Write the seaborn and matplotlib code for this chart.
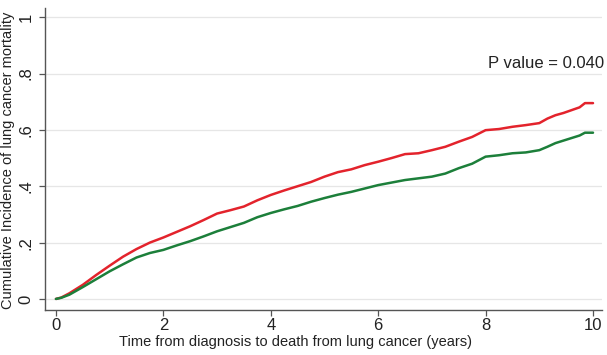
import numpy as np
import pandas as pd
import matplotlib
matplotlib.use("Agg")
import matplotlib.pyplot as plt
import seaborn as sns

# Time (years) and cumulative incidence readings
time_red = [0.0, 0.1, 0.25, 0.5, 0.75, 1.0, 1.25, 1.5, 1.75, 2.0, 2.25, 2.5, 2.75, 3.0,
            3.25, 3.5, 3.75, 4.0, 4.25, 4.5, 4.75, 5.0, 5.25, 5.5, 5.75, 6.0, 6.25,
            6.5, 6.75, 7.0, 7.25, 7.5, 7.75, 8.0, 8.25, 8.5, 8.75, 9.0, 9.15, 9.3,
            9.45, 9.6, 9.75, 9.85, 10.0]
cif_red = [0.0, 0.005, 0.02, 0.05, 0.085, 0.118, 0.15, 0.177, 0.2, 0.218, 0.238, 0.258,
           0.28, 0.303, 0.315, 0.328, 0.35, 0.369, 0.385, 0.40, 0.415, 0.434, 0.45,
           0.46, 0.475, 0.487, 0.50, 0.514, 0.517, 0.528, 0.54, 0.558, 0.575, 0.599,
           0.603, 0.611, 0.617, 0.624, 0.64, 0.652, 0.66, 0.67, 0.68, 0.695, 0.695]

time_green = [0.0, 0.1, 0.25, 0.5, 0.75, 1.0, 1.25, 1.5, 1.75, 2.0, 2.25, 2.5, 2.75, 3.0,
              3.25, 3.5, 3.75, 4.0, 4.25, 4.5, 4.75, 5.0, 5.25, 5.5, 5.75, 6.0, 6.25,
              6.5, 6.75, 7.0, 7.25, 7.5, 7.75, 8.0, 8.25, 8.5, 8.75, 9.0, 9.15, 9.3,
              9.45, 9.6, 9.75, 9.85, 10.0]
cif_green = [0.0, 0.004, 0.015, 0.042, 0.07, 0.098, 0.123, 0.147, 0.163, 0.174, 0.19,
             0.205, 0.222, 0.24, 0.255, 0.27, 0.29, 0.305, 0.318, 0.33, 0.345, 0.358,
             0.37, 0.38, 0.392, 0.404, 0.413, 0.422, 0.428, 0.434, 0.445, 0.464, 0.48,
             0.505, 0.51, 0.517, 0.52, 0.528, 0.54, 0.553, 0.562, 0.571, 0.58, 0.59,
             0.59]

y_ticks = [0, 0.2, 0.4, 0.6, 0.8, 1.0]
y_tick_labels = ["0", ".2", ".4", ".6", ".8", "1"]
x_ticks = [0, 2, 4, 6, 8, 10]

sns.set_style("white")
plt.rcParams['font.family'] = ['Liberation Sans', 'DejaVu Sans']

df = pd.concat([
    pd.DataFrame({"time": time_red, "cif": cif_red, "group": "red"}),
    pd.DataFrame({"time": time_green, "cif": cif_green, "group": "green"}),
])

fig = plt.figure(figsize=(6.07, 3.55), dpi=100)
ax = fig.add_axes([0.074, 0.127, 0.918, 0.850])

for y in y_ticks:
    ax.axhline(y, color="#e6e6e6", lw=0.9, zorder=0)

sns.lineplot(data=df, x="time", y="cif", hue="group",
             palette={"red": "#e3232c", "green": "#1c7f3a"},
             lw=1.8, legend=False, ax=ax, estimator=None)

ax.set_xlim(-0.205, 10.17)
ax.set_ylim(-0.039, 1.032)
ax.set_xticks(x_ticks)
ax.set_xticklabels([str(t) for t in x_ticks], fontsize=12, color="#222222")
ax.set_yticks(y_ticks)
ax.set_yticklabels(y_tick_labels, fontsize=12, color="#222222", rotation=90, va="center")
ax.tick_params(axis="x", direction="out", length=4, width=0.9, color="#555555", pad=2,
               bottom=True)
ax.tick_params(axis="y", direction="out", length=4, width=0.9, color="#555555", pad=4,
               left=True)

for s in ["top", "right"]:
    ax.spines[s].set_visible(False)
for s in ["left", "bottom"]:
    ax.spines[s].set_color("#555555")
    ax.spines[s].set_linewidth(1.0)

ax.set_xlabel("")
ax.set_ylabel("")
fig.text(0.487, 0.036, "Time from diagnosis to death from lung cancer (years)",
         ha="center", va="center", fontsize=10.5, color="#222222")
fig.text(0.013, 0.549, "Cumulative Incidence of lung cancer mortality",
         ha="center", va="center", rotation=90, fontsize=10.5, color="#222222")

ax.text(10.2, 0.835, "P value = 0.040", ha="right", va="center", fontsize=12,
        color="#222222")

fig.savefig("out.png", dpi=100)
